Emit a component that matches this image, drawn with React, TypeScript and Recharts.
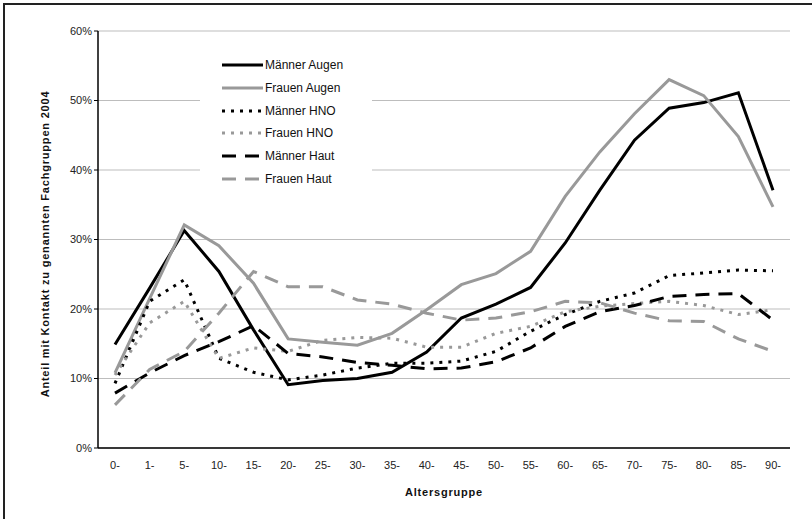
import React from 'react';
import { LineChart, Line, XAxis, YAxis, CartesianGrid, Legend } from 'recharts';

const categories = ['0-', '1-', '5-', '10-', '15-', '20-', '25-', '30-', '35-', '40-', '45-', '50-', '55-', '60-', '65-', '70-', '75-', '80-', '85-', '90-'];
const maennerAugen = [14.9, 23.0, 31.3, 25.4, 17.0, 9.1, 9.7, 10.0, 10.9, 13.8, 18.7, 20.7, 23.1, 29.5, 37.1, 44.3, 48.9, 49.7, 51.1, 37.1];
const frauenAugen = [10.8, 21.5, 32.1, 29.1, 23.7, 15.7, 15.2, 14.8, 16.5, 19.9, 23.5, 25.1, 28.3, 36.2, 42.6, 48.1, 53.0, 50.7, 44.8, 34.7];
const maennerHNO = [9.3, 21.1, 24.2, 12.9, 10.9, 9.8, 10.5, 11.5, 12.2, 12.2, 12.5, 13.9, 16.8, 19.2, 21.1, 22.3, 24.8, 25.2, 25.6, 25.5];
const frauenHNO = [10.5, 18.0, 21.1, 12.9, 14.4, 13.9, 15.5, 15.9, 15.8, 14.5, 14.5, 16.5, 17.5, 19.6, 20.4, 20.8, 21.1, 20.5, 19.2, 19.9];
const maennerHaut = [7.9, 10.8, 13.3, 15.3, 17.6, 13.6, 13.1, 12.3, 11.9, 11.4, 11.5, 12.4, 14.4, 17.5, 19.6, 20.5, 21.8, 22.1, 22.2, 18.4];
const frauenHaut = [6.2, 11.3, 13.9, 19.4, 25.4, 23.2, 23.2, 21.3, 20.7, 19.4, 18.4, 18.7, 19.6, 21.1, 20.9, 19.4, 18.3, 18.2, 15.7, 13.9];
const yTicks = [0, 10, 20, 30, 40, 50, 60];

const series = [
  { key: 'ma', name: 'Männer Augen', values: maennerAugen, color: '#000000', dash: undefined as string | undefined },
  { key: 'fa', name: 'Frauen Augen', values: frauenAugen, color: '#999999', dash: undefined as string | undefined },
  { key: 'mh', name: 'Männer HNO', values: maennerHNO, color: '#000000', dash: '3 6' },
  { key: 'fh', name: 'Frauen HNO', values: frauenHNO, color: '#999999', dash: '3 6' },
  { key: 'mt', name: 'Männer Haut', values: maennerHaut, color: '#000000', dash: '14 9' },
  { key: 'ft', name: 'Frauen Haut', values: frauenHaut, color: '#999999', dash: '14 9' },
];

const data = categories.map((c, i) => {
  const row: Record<string, string | number> = { cat: c };
  series.forEach((s) => {
    row[s.key] = s.values[i];
  });
  return row;
});

const FONT = '"Liberation Sans", Arial, sans-serif';

const LegendBox = () => (
  <div style={{ background: '#fff', width: 172, height: 146, paddingTop: 4, boxSizing: 'border-box' }}>
    {series.map((s) => (
      <div key={s.key} style={{ display: 'flex', alignItems: 'center', height: 22.7, marginLeft: 22 }}>
        <svg width={42} height={8} style={{ display: 'block' }}>
          <line x1={0} y1={4} x2={41} y2={4} stroke={s.color} strokeWidth={3} strokeDasharray={s.dash} />
        </svg>
        <span style={{ fontFamily: FONT, fontSize: 12, color: '#111', marginLeft: 1 }}>{s.name}</span>
      </div>
    ))}
  </div>
);

const YTitle = () => (
  <text
    x={45}
    y={244}
    transform="rotate(-90 45 244)"
    textAnchor="middle"
    dominantBaseline="central"
    style={{ fontFamily: FONT, fontSize: 11, fontWeight: 'bold', fill: '#111', letterSpacing: 0.8 }}
  >
    Anteil mit Kontakt zu genannten Fachgruppen 2004
  </text>
);

export default function App() {
  return (
    <div style={{ position: 'fixed', left: 0, top: 0, width: 812, height: 519, background: '#fff' }}>
      <div style={{ position: 'absolute', left: 3, top: 3, width: 830, height: 540, borderTop: '2px solid #222', borderLeft: '2px solid #222' }} />
      <LineChart width={812} height={519} data={data} margin={{ top: 31, right: 22, bottom: 28, left: 38 }}>
        <CartesianGrid horizontal vertical={false} stroke="#bdbdbd" strokeWidth={1.2} />
        <XAxis
          dataKey="cat"
          tickLine={false}
          axisLine={{ stroke: '#000', strokeWidth: 1.5 }}
          tick={{ fontFamily: FONT, fontSize: 11, fill: '#222' }}
          tickMargin={7}
          height={43}
          interval={0}
          padding={{ left: 17, right: 17 }}
          label={{ value: 'Altersgruppe', position: 'insideBottom', offset: -5, style: { fontFamily: FONT, fontSize: 11, fontWeight: 'bold', fill: '#111', letterSpacing: 0.8 } }}
        />
        <XAxis xAxisId="top" orientation="top" dataKey="cat" tick={false} tickLine={false} height={0} axisLine={{ stroke: '#555', strokeWidth: 1.5 }} />
        <YAxis
          domain={[0, 60]}
          ticks={yTicks}
          tickFormatter={(v: number) => `${v}%`}
          tick={{ fontFamily: FONT, fontSize: 11, fill: '#222' }}
          tickLine={{ stroke: '#000' }}
          tickSize={4}
          axisLine={{ stroke: '#000', strokeWidth: 1.5 }}
          width={60}
          label={{ content: () => <YTitle /> }}
        />
        <YAxis yAxisId="right" orientation="right" domain={[0, 60]} tick={false} tickLine={false} width={0} axisLine={{ stroke: '#555', strokeWidth: 1.5 }} />
        <Legend content={<LegendBox />} layout="horizontal" align="center" verticalAlign="middle" wrapperStyle={{ left: 200, top: 50, width: 172, height: 146 }} />
        {series.map((s) => (
          <Line
            key={s.key}
            type="linear"
            dataKey={s.key}
            name={s.name}
            stroke={s.color}
            strokeWidth={3}
            strokeDasharray={s.dash}
            dot={false}
            activeDot={false}
            isAnimationActive={false}
          />
        ))}
      </LineChart>
    </div>
  );
}
